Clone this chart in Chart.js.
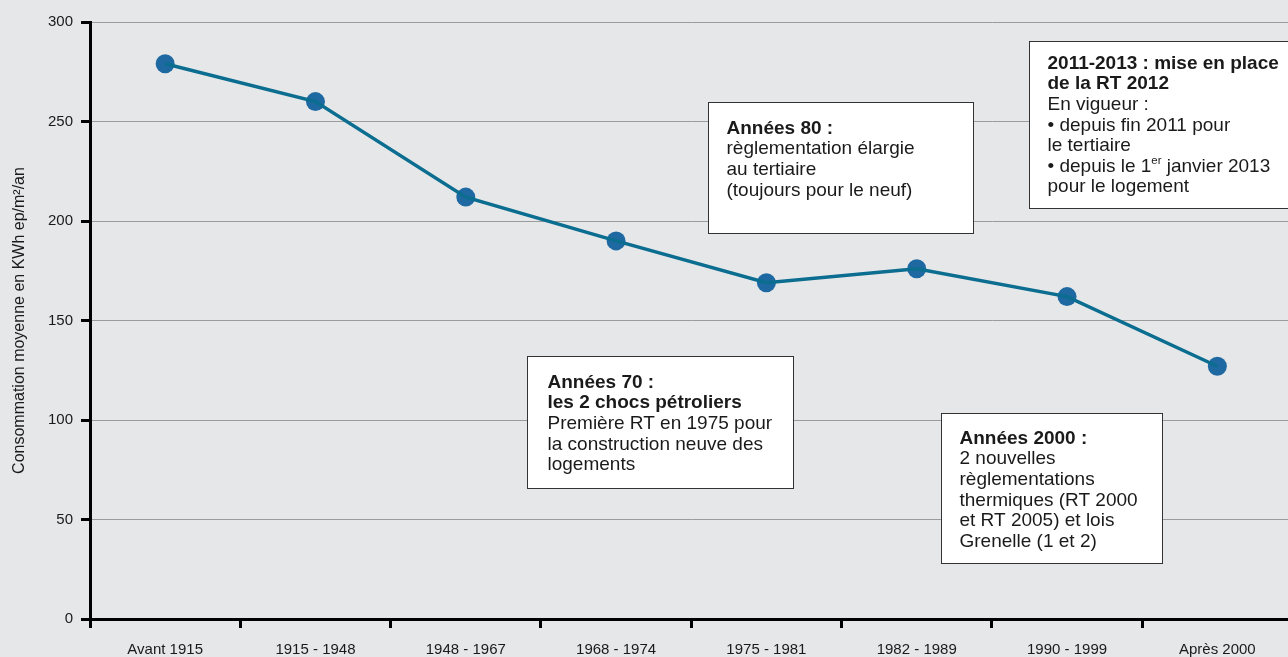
<!DOCTYPE html>
<html lang="fr">
<head>
<meta charset="utf-8">
<script src="https://cdn.jsdelivr.net/npm/chart.js@4.4.1/dist/chart.umd.min.js"></script>
<style>
  html, body { margin: 0; padding: 0; background: #e6e7e9; overflow: hidden; }
  #wrap { width: 1302px; height: 657px; position: relative; }
</style>
</head>
<body>
<div id="wrap"><canvas id="chart"></canvas></div>
<script>
// Consommation moyenne par période de construction
const periods = ["Avant 1915", "1915 - 1948", "1948 - 1967", "1968 - 1974", "1975 - 1981", "1982 - 1989", "1990 - 1999", "Après 2000"];
const consumption = [279, 260, 212, 190, 169, 176, 162, 127];
const yTitle = "Consommation moyenne en KWh ep/m²/an";

// Encadrés : chaque ligne est une liste de morceaux (b = gras, sup = exposant)
const noteAnnees70 = [
  [{ t: "Années 70 :", b: true }],
  [{ t: "les 2 chocs pétroliers", b: true }],
  [{ t: "Première RT en 1975 pour" }],
  [{ t: "la construction neuve des" }],
  [{ t: "logements" }],
];
const noteAnnees80 = [
  [{ t: "Années 80 :", b: true }],
  [{ t: "règlementation élargie" }],
  [{ t: "au tertiaire" }],
  [{ t: "(toujours pour le neuf)" }],
];
const noteAnnees2000 = [
  [{ t: "Années 2000 :", b: true }],
  [{ t: "2 nouvelles" }],
  [{ t: "règlementations" }],
  [{ t: "thermiques (RT 2000" }],
  [{ t: "et RT 2005) et lois" }],
  [{ t: "Grenelle (1 et 2)" }],
];
const noteRT2012 = [
  [{ t: "2011-2013 : mise en place", b: true }],
  [{ t: "de la RT 2012", b: true }],
  [{ t: "En vigueur :" }],
  [{ t: "• depuis fin 2011 pour" }],
  [{ t: "le tertiaire" }],
  [{ t: "• depuis le 1" }, { t: "er", sup: true }, { t: " janvier 2013" }],
  [{ t: "pour le logement" }],
];

const FONT = "'Liberation Sans', Arial, Helvetica, sans-serif";
const COLORS = {
  bg: "#e6e7e9",
  line: "#0b6d8f",
  point: "#1f69a2",
  grid: "#9b9b9b",
  axis: "#000000",
  text: "#1a1a1a",
};

// Position des encadrés : coin haut-gauche en unités d'axe (index de catégorie, valeur)
const notes = [
  { lines: noteAnnees80,   x: 3.61, y: 260,   w: 265, h: 131, pad: 18, first: 26 },
  { lines: noteRT2012,     x: 5.75, y: 290.5, w: 280, h: 167, pad: 18, first: 22 },
  { lines: noteAnnees70,   x: 2.41, y: 132.3, w: 266, h: 132, pad: 20, first: 26 },
  { lines: noteAnnees2000, x: 5.16, y: 103.5, w: 221, h: 150, pad: 18, first: 25 },
];

const background = {
  id: "background",
  beforeDraw(chart) {
    const { ctx, width, height } = chart;
    ctx.save();
    ctx.fillStyle = COLORS.bg;
    ctx.fillRect(0, 0, width, height);
    ctx.restore();
  },
};

const noteBoxes = {
  id: "noteBoxes",
  afterDraw(chart) {
    const { ctx } = chart;
    const xs = chart.scales.x, ys = chart.scales.y;
    const size = 19, lh = 20.6;
    ctx.save();
    notes.forEach(n => {
      const left = Math.round(xs.getPixelForValue(n.x)) + 0.5;
      const top = Math.round(ys.getPixelForValue(n.y)) + 0.5;
      ctx.fillStyle = "#ffffff";
      ctx.fillRect(left, top, n.w, n.h);
      ctx.strokeStyle = "#333333";
      ctx.lineWidth = 1;
      ctx.strokeRect(left, top, n.w, n.h);
      ctx.fillStyle = COLORS.text;
      ctx.textBaseline = "middle";
      ctx.textAlign = "left";
      n.lines.forEach((segs, i) => {
        let x = left + n.pad;
        const y = top + n.first + i * lh;
        segs.forEach(s => {
          const fs = s.sup ? size * 0.6 : size;
          ctx.font = `${s.b ? "bold " : ""}${fs}px ${FONT}`;
          ctx.fillText(s.t, x, s.sup ? y - size * 0.3 : y);
          x += ctx.measureText(s.t).width;
        });
      });
    });
    ctx.restore();
  },
};

new Chart(document.getElementById("chart"), {
  type: "line",
  data: {
    labels: periods,
    datasets: [
      {
        // la ligne passe par-dessus les points
        data: consumption,
        borderColor: COLORS.line,
        borderWidth: 3.5,
        pointRadius: 0,
        tension: 0,
        fill: false,
        order: 1,
      },
      {
        data: consumption,
        showLine: false,
        pointRadius: 9.5,
        pointBackgroundColor: COLORS.point,
        pointBorderWidth: 0,
        order: 2,
      },
    ],
  },
  options: {
    responsive: true,
    maintainAspectRatio: false,
    animation: false,
    layout: { padding: { top: 22, right: 0, bottom: 0, left: 0 } },
    plugins: {
      legend: { display: false },
      tooltip: { enabled: false },
    },
    scales: {
      x: {
        offset: true,
        grid: {
          drawOnChartArea: false,
          drawTicks: true,
          offset: true,
          tickLength: 9,
          tickColor: COLORS.axis,
          tickWidth: 3,
        },
        border: { color: COLORS.axis, width: 3 },
        ticks: { color: COLORS.text, font: { family: FONT, size: 15 }, padding: 13, maxRotation: 0, autoSkip: false },
        afterFit(scale) { scale.height = 38; },
      },
      y: {
        min: 0,
        max: 300,
        ticks: { stepSize: 50, color: COLORS.text, font: { family: FONT, size: 15 }, padding: 8 },
        grid: {
          color: COLORS.grid,
          lineWidth: 1,
          drawTicks: true,
          tickLength: 9,
          tickColor: COLORS.axis,
          tickWidth: 3,
        },
        border: { color: COLORS.axis, width: 3 },
        title: {
          display: true,
          text: yTitle,
          color: COLORS.text,
          font: { family: FONT, size: 16 },
          padding: { top: 10, bottom: 0 },
        },
        afterFit(scale) { scale.width = 90; },
      },
    },
  },
  plugins: [background, noteBoxes],
});
</script>
</body>
</html>
